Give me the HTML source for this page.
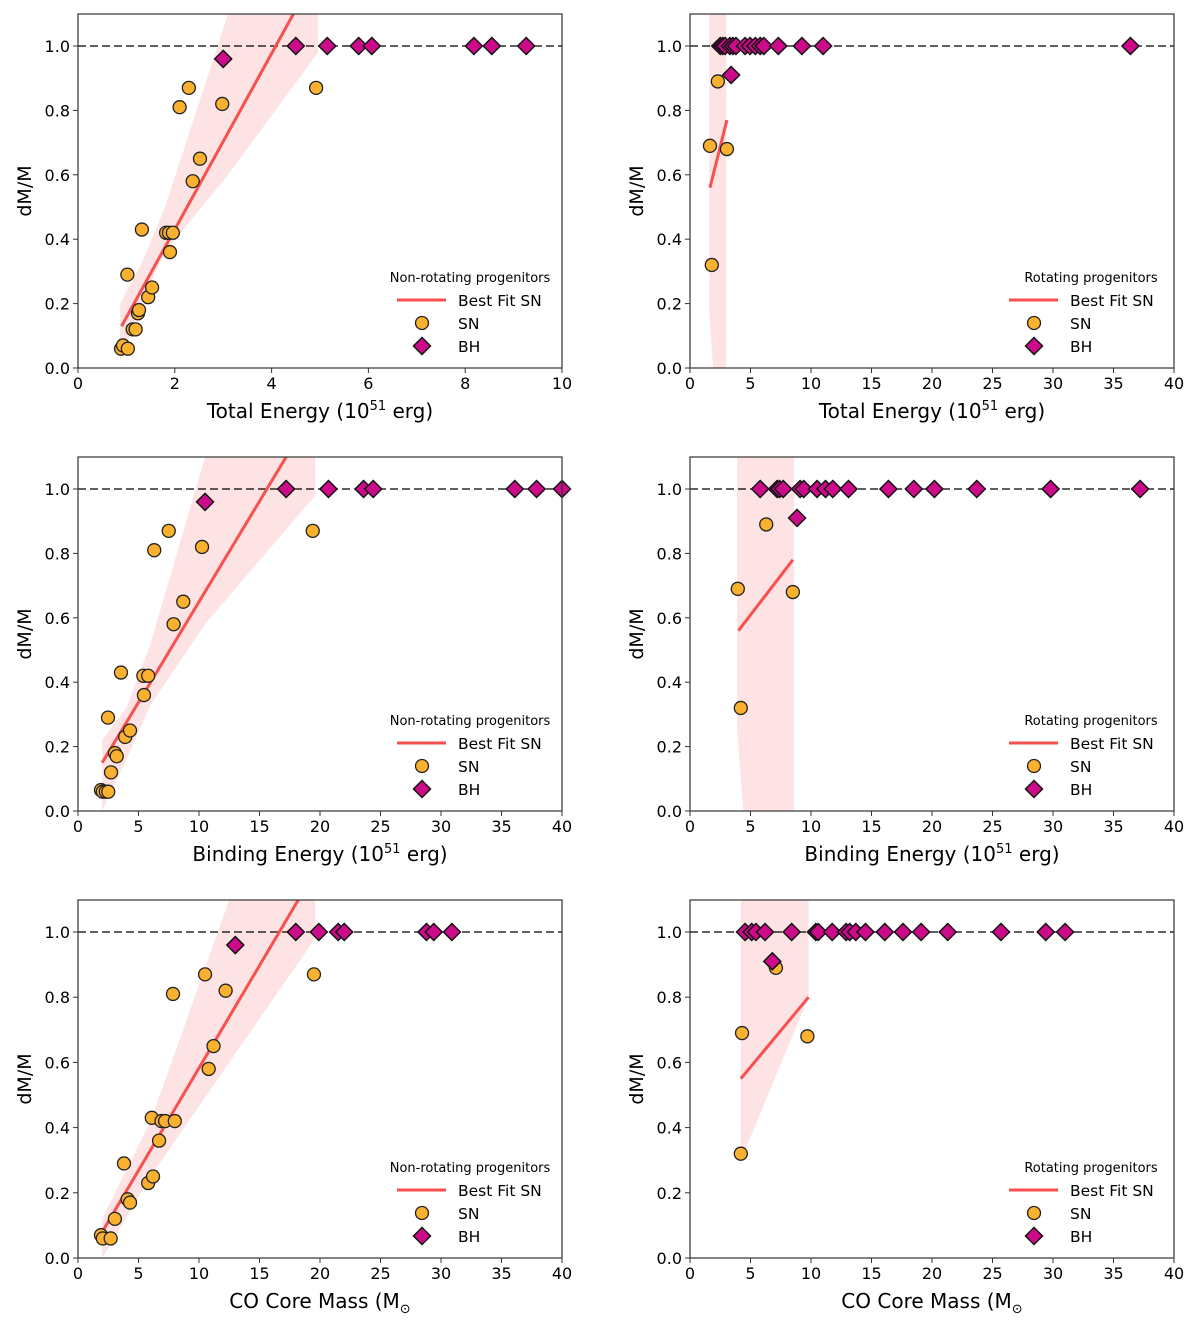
<!DOCTYPE html>
<html><head><meta charset="utf-8">
<style>
body{margin:0;background:#fff;}
svg{display:block;font-family:"DejaVu Sans","Liberation Sans",sans-serif;}
</style></head>
<body>
<svg id="fig" width="1200" height="1327" viewBox="0 0 1200 1327" xmlns="http://www.w3.org/2000/svg"></svg>
<script>
// ---- Panel 1: Total energy, non-rotating ----
const p1SnX=[0.89,0.93,1.03,1.02,1.13,1.19,1.24,1.26,1.32,1.45,1.53,1.82,1.88,1.96,1.9,2.1,2.29,2.37,2.52,2.98,4.92];
const p1SnY=[0.06,0.07,0.06,0.29,0.12,0.12,0.17,0.18,0.43,0.22,0.25,0.42,0.42,0.42,0.36,0.81,0.87,0.58,0.65,0.82,0.87];
const p1BhX=[3.0,4.5,5.15,5.8,6.07,8.18,8.55,9.26];
const p1BhY=[0.96,1,1,1,1,1,1,1];
const p1Fit=[[0.9,0.13],[4.45,1.1]];
const p1BandX=[0.87,1.3,1.8,3.1,4.96];
const p1BandLo=[0.02,0.2,0.36,0.6,0.98];
const p1BandHi=[0.2,0.32,0.5,1.1,1.1];
// ---- Panel 2: Total energy, rotating ----
const p2SnX=[1.65,1.8,2.3,3.05];
const p2SnY=[0.69,0.32,0.89,0.68];
const p2BhX=[2.5,2.7,2.9,3.3,3.55,3.8,4.55,4.96,5.4,5.8,6.1,7.3,9.25,11,36.4,3.4];
const p2BhY=[1,1,1,1,1,1,1,1,1,1,1,1,1,1,1,0.91];
const p2Fit=[[1.65,0.56],[3.05,0.77]];
const p2BandX=[1.6,1.9,3.0];
const p2BandLo=[0.17,0,0];
const p2BandHi=[1.1,1.1,1.1];
// ---- Panel 3: Binding energy, non-rotating ----
const p3SnX=[1.9,2.05,2.3,2.5,2.48,2.73,3.05,3.2,3.55,3.9,4.3,5.4,5.8,5.45,6.3,7.5,7.9,8.7,10.25,19.4];
const p3SnY=[0.065,0.06,0.06,0.06,0.29,0.12,0.18,0.17,0.43,0.23,0.25,0.42,0.42,0.36,0.81,0.87,0.58,0.65,0.82,0.87];
const p3BhX=[10.5,17.2,20.7,23.6,24.4,36.1,37.9,40];
const p3BhY=[0.96,1,1,1,1,1,1,1];
const p3Fit=[[2,0.15],[17.2,1.1]];
const p3BandX=[2,4,6,10.5,19.6];
const p3BandLo=[0.0,0.16,0.33,0.58,0.98];
const p3BandHi=[0.22,0.32,0.52,1.1,1.1];
// ---- Panel 4: Binding energy, rotating ----
const p4SnX=[3.95,4.2,6.3,8.5];
const p4SnY=[0.69,0.32,0.89,0.68];
const p4BhX=[5.8,7.2,7.4,7.7,9.1,9.4,10.5,11.2,11.8,13.1,16.4,18.5,20.2,23.7,29.8,37.2,8.85];
const p4BhY=[1,1,1,1,1,1,1,1,1,1,1,1,1,1,1,1,0.91];
const p4Fit=[[4,0.56],[8.5,0.78]];
const p4BandX=[3.9,4.4,8.6];
const p4BandLo=[0.25,0,0];
const p4BandHi=[1.1,1.1,1.1];
// ---- Panel 5: CO core mass, non-rotating ----
const p5SnX=[1.9,2.05,2.7,3.05,3.8,4.1,4.3,5.8,6.2,6.1,6.7,6.9,7.2,8.0,7.85,10.5,10.8,11.2,12.2,19.5];
const p5SnY=[0.07,0.06,0.06,0.12,0.29,0.18,0.17,0.23,0.25,0.43,0.36,0.42,0.42,0.42,0.81,0.87,0.58,0.65,0.82,0.87];
const p5BhX=[13,18,19.9,21.5,22,28.8,29.4,30.9];
const p5BhY=[0.96,1,1,1,1,1,1,1];
const p5Fit=[[2,0.08],[18.2,1.1]];
const p5BandX=[2,6,12.5,19.6];
const p5BandLo=[0.0,0.25,0.6,0.98];
const p5BandHi=[0.12,0.42,1.1,1.1];
// ---- Panel 6: CO core mass, rotating ----
const p6SnX=[4.2,4.3,7.1,9.7];
const p6SnY=[0.32,0.69,0.89,0.68];
const p6BhX=[4.55,5.1,5.45,6.2,8.4,10.4,10.6,11.75,12.9,13.2,13.7,14.5,16.1,17.6,19.1,21.3,25.7,29.4,31,6.8];
const p6BhY=[1,1,1,1,1,1,1,1,1,1,1,1,1,1,1,1,1,1,1,0.91];
const p6Fit=[[4.2,0.55],[9.8,0.8]];
const p6BandX=[4.2,9.8];
const p6BandLo=[0.3,0.8];
const p6BandHi=[1.1,1.1];

const xTicks10=[0,2,4,6,8,10];
const xTicks40=[0,5,10,15,20,25,30,35,40];
const yTicks=[0,0.2,0.4,0.6,0.8,1.0];

const NS="http://www.w3.org/2000/svg";
const svg=document.getElementById('fig');
function mk(tag,attrs,parent){const e=document.createElementNS(NS,tag);for(const k in attrs)e.setAttribute(k,attrs[k]);(parent||svg).appendChild(e);return e;}

function panel(o){
  const g=mk('g',{});
  
  
  const L=o.L,R=o.L+484,T=o.T,B=o.B,y1=o.y1;
  const sx=v=>L+(v-0)/(o.xmax)*(R-L);
  const sy=v=>B-v*(B-y1);
  let pts=[];
  for(let i=0;i<o.bx.length;i++)pts.push(sx(o.bx[i])+','+Math.max(T,sy(o.bhi[i])));
  for(let i=o.bx.length-1;i>=0;i--)pts.push(sx(o.bx[i])+','+sy(o.blo[i]));
  const band=mk('polygon',{points:pts.join(' '),fill:'#fde3e3'},g);
  
  
  const dl=mk('line',{x1:L,x2:R,y1:sy(1),y2:sy(1),stroke:'#000','stroke-width':1.3,'stroke-dasharray':'8,4'},g);
  
  
  let [a,b]=o.fit;
  const fl=mk('line',{x1:sx(a[0]),y1:sy(a[1]),x2:sx(b[0]),y2:Math.max(T,sy(b[1])),stroke:'#f94f4f','stroke-width':3},g);
  
  
  for(let i=0;i<o.snx.length;i++){
    const c=mk('circle',{cx:sx(o.snx[i]),cy:sy(o.sny[i]),r:6.5,fill:'#fbb130',stroke:'#222','stroke-width':1.3},g);
    
    
  }
  for(let i=0;i<o.bhx.length;i++){
    const cx=sx(o.bhx[i]),cy=sy(o.bhy[i]),d=8.5;
    const p=mk('polygon',{points:`${cx},${cy-d} ${cx+d},${cy} ${cx},${cy+d} ${cx-d},${cy}`,fill:'#cc0a8a',stroke:'#111','stroke-width':1.5},g);
    
    
  }
  const fr=mk('rect',{x:L,y:T,width:R-L,height:B-T,fill:'none',stroke:'#333','stroke-width':1.2},g);
  
  
  for(const t of o.xt){
    mk('line',{x1:sx(t),x2:sx(t),y1:B,y2:B+5,stroke:'#333'},g);
    const tx=mk('text',{x:sx(t),y:B+21,'font-size':16,'text-anchor':'middle'},g);
    tx.textContent=t;
    
    
  }
  for(const t of yTicks){
    mk('line',{x1:L-5,x2:L,y1:sy(t),y2:sy(t),stroke:'#333'},g);
    const ty=mk('text',{x:L-8,y:sy(t)+6,'font-size':16,'text-anchor':'end'},g);
    ty.textContent=t.toFixed(1);
    
    
  }
  const xl=mk('text',{x:(L+R)/2,y:B+50,'font-size':20,'text-anchor':'middle'},g);
  xl.innerHTML=o.xlabel;
  
  
  const yl=mk('text',{x:0,y:0,'font-size':19,'text-anchor':'middle',transform:`translate(${L-47},${(T+B)/2}) rotate(-90)`},g);
  yl.textContent='dM/M';
  
  
  const lg=mk('g',{},g);
  
  
  const lb=B-86;
  const tt=mk('text',{x:o.L+o.legCx,y:lb,'font-size':13,'text-anchor':'middle'},lg);
  tt.textContent=o.legTitle;
  mk('line',{x1:L+319,x2:L+368,y1:lb+18,y2:lb+18,stroke:'#f94f4f','stroke-width':3},lg);
  const t1=mk('text',{x:L+380,y:lb+24,'font-size':15.5},lg);t1.textContent='Best Fit SN';
  mk('circle',{cx:L+344,cy:lb+41,r:6.5,fill:'#fbb130',stroke:'#222','stroke-width':1.3},lg);
  const t2=mk('text',{x:L+380,y:lb+47,'font-size':15.5},lg);t2.textContent='SN';
  const cx=L+344,cy=lb+64,d=8.5;
  mk('polygon',{points:`${cx},${cy-d} ${cx+d},${cy} ${cx},${cy+d} ${cx-d},${cy}`,fill:'#cc0a8a',stroke:'#111','stroke-width':1.5},lg);
  const t3=mk('text',{x:L+380,y:lb+70,'font-size':15.5},lg);t3.textContent='BH';
}
const TE='Total Energy (10<tspan dy="-8" font-size="13">51</tspan><tspan dy="8"> erg)</tspan>';
const BE='Binding Energy (10<tspan dy="-8" font-size="13">51</tspan><tspan dy="8"> erg)</tspan>';
const CO='CO Core Mass (M<tspan dy="5" font-size="13">⊙</tspan>';
const NR='Non-rotating progenitors', RO='Rotating progenitors';
panel({name:'panel-total-energy-nonrot',L:78,T:14,B:368,y1:46,xmax:10,xt:xTicks10,xlabel:TE,snx:p1SnX,sny:p1SnY,bhx:p1BhX,bhy:p1BhY,fit:p1Fit,bx:p1BandX,blo:p1BandLo,bhi:p1BandHi,legTitle:NR,legCx:392});
panel({name:'panel-total-energy-rot',L:690,T:14,B:368,y1:46,xmax:40,xt:xTicks40,xlabel:TE,snx:p2SnX,sny:p2SnY,bhx:p2BhX,bhy:p2BhY,fit:p2Fit,bx:p2BandX,blo:p2BandLo,bhi:p2BandHi,legTitle:RO,legCx:401});
panel({name:'panel-binding-energy-nonrot',L:78,T:457,B:811,y1:489,xmax:40,xt:xTicks40,xlabel:BE,snx:p3SnX,sny:p3SnY,bhx:p3BhX,bhy:p3BhY,fit:p3Fit,bx:p3BandX,blo:p3BandLo,bhi:p3BandHi,legTitle:NR,legCx:392});
panel({name:'panel-binding-energy-rot',L:690,T:457,B:811,y1:489,xmax:40,xt:xTicks40,xlabel:BE,snx:p4SnX,sny:p4SnY,bhx:p4BhX,bhy:p4BhY,fit:p4Fit,bx:p4BandX,blo:p4BandLo,bhi:p4BandHi,legTitle:RO,legCx:401});
panel({name:'panel-co-core-nonrot',L:78,T:900,B:1258,y1:932,xmax:40,xt:xTicks40,xlabel:CO,snx:p5SnX,sny:p5SnY,bhx:p5BhX,bhy:p5BhY,fit:p5Fit,bx:p5BandX,blo:p5BandLo,bhi:p5BandHi,legTitle:NR,legCx:392});
panel({name:'panel-co-core-rot',L:690,T:900,B:1258,y1:932,xmax:40,xt:xTicks40,xlabel:CO,snx:p6SnX,sny:p6SnY,bhx:p6BhX,bhy:p6BhY,fit:p6Fit,bx:p6BandX,blo:p6BandLo,bhi:p6BandHi,legTitle:RO,legCx:401});
</script>
</body></html>
